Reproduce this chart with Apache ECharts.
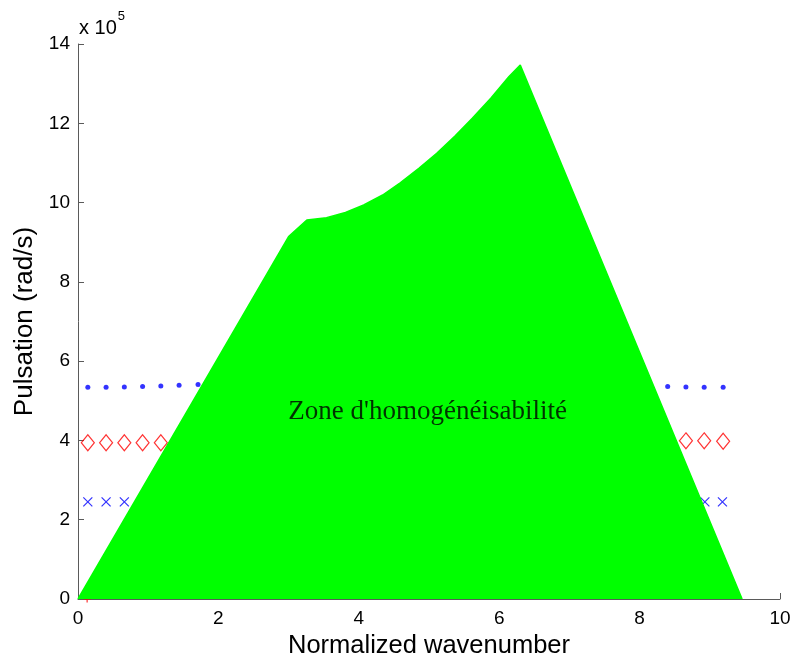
<!DOCTYPE html>
<html>
<head>
<meta charset="utf-8">
<script src="https://cdn.jsdelivr.net/npm/echarts@6/dist/echarts.min.js"></script>
<style>html,body{margin:0;padding:0;background:#fff;}#c{width:796px;height:660px;}</style>
</head>
<body>
<div id="c"></div>
<script>
// Zone boundary (x: normalized wavenumber, y: pulsation x 1e5 rad/s)
var zoneX = [0, 3.00, 3.26, 3.54, 3.81, 4.07, 4.34, 4.59, 4.86, 5.11, 5.37, 5.62, 5.88, 6.14, 6.30, 9.46];
var zoneY = [0, 9.14, 9.56, 9.62, 9.75, 9.94, 10.19, 10.50, 10.87, 11.24, 11.68, 12.13, 12.63, 13.18, 13.47, 0];

// Blue dots
var dotX = [0.14, 0.40, 0.66, 0.92, 1.18, 1.44, 1.71, 8.40, 8.66, 8.92, 9.19];
var dotY = [5.34, 5.34, 5.35, 5.36, 5.37, 5.39, 5.41, 5.36, 5.35, 5.34, 5.34];

// Red diamonds
var diaX = [0.14, 0.40, 0.66, 0.92, 1.18, 8.66, 8.92, 9.19];
var diaY = [3.94, 3.94, 3.94, 3.94, 3.94, 3.99, 3.99, 3.98];

// Blue crosses
var crossX = [0.14, 0.40, 0.66, 8.93, 9.18];
var crossY = [2.45, 2.45, 2.45, 2.45, 2.45];

// Origin marker
var originX = [0.13];
var originY = [0];

var xTicks = [0, 2, 4, 6, 8, 10];
var yTicks = [0, 2, 4, 6, 8, 10, 12, 14];

var zoneLabel = "Zone d'homogénéisabilité";
var zoneLabelPos = [4.98, 4.72];

function zip(a, b) { return a.map(function (v, i) { return [v, b[i]]; }); }

var chart = echarts.init(document.getElementById('c'), null, {renderer: 'canvas'});
var axisCol = '#5a5a5a';
chart.setOption({
  animation: false,
  backgroundColor: '#ffffff',
  grid: {left: 78, right: 16, top: 44, bottom: 61, containLabel: false, outerBoundsMode: 'none'},
  xAxis: {
    type: 'value', min: xTicks[0], max: xTicks[xTicks.length - 1], interval: 2,
    name: 'Normalized wavenumber', nameLocation: 'middle', nameGap: 30,
    nameTextStyle: {fontFamily: 'Liberation Sans, Arial', fontSize: 25.5, color: '#000'},
    axisLine: {show: true, lineStyle: {color: axisCol, width: 1}},
    axisTick: {show: true, inside: true, length: 6, lineStyle: {color: axisCol}},
    axisLabel: {fontFamily: 'Liberation Sans, Arial', fontSize: 19, color: '#000', margin: 10},
    splitLine: {show: false}
  },
  yAxis: {
    type: 'value', min: yTicks[0], max: yTicks[yTicks.length - 1], interval: 2,
    name: 'Pulsation (rad/s)', nameLocation: 'middle', nameGap: 34,
    nameTextStyle: {fontFamily: 'Liberation Sans, Arial', fontSize: 26, color: '#000'},
    axisLine: {show: true, lineStyle: {color: axisCol, width: 1}},
    axisTick: {show: true, inside: true, length: 6, lineStyle: {color: axisCol}},
    axisLabel: {fontFamily: 'Liberation Sans, Arial', fontSize: 19, color: '#000', margin: 8},
    splitLine: {show: false}
  },
  graphic: [{
    type: 'text', left: 79, top: 10, z: 10,
    style: {
      text: '{a|x 10}{b|5}',
      rich: {
        a: {fontFamily: 'Liberation Sans, Arial', fontSize: 20, fill: '#000', verticalAlign: 'bottom', lineHeight: 28},
        b: {fontFamily: 'Liberation Sans, Arial', fontSize: 13, fill: '#000', verticalAlign: 'top', padding: [0, 0, 14, 1], lineHeight: 28}
      }
    }
  }],
  series: [
    {
      type: 'scatter', z: 1, data: zip(dotX, dotY), symbol: 'circle', symbolSize: 5,
      itemStyle: {color: '#0000ff'}
    },
    {
      type: 'scatter', z: 1, data: zip(diaX, diaY), symbol: 'diamond', symbolSize: [13, 16],
      itemStyle: {color: 'rgba(0,0,0,0)', borderColor: '#ff0000', borderWidth: 1.2}
    },
    {
      type: 'scatter', z: 1, data: zip(crossX, crossY),
      symbol: 'path://M0,0L10,10M10,0L0,10', symbolSize: 9,
      itemStyle: {color: 'rgba(0,0,0,0)', borderColor: '#0000ff', borderWidth: 1.2}
    },
    {
      type: 'scatter', z: 1, data: zip(originX, originY), clip: false,
      symbol: 'path://M5,0L5,10M0,5L10,5', symbolSize: 7,
      itemStyle: {color: 'rgba(0,0,0,0)', borderColor: '#ff0000', borderWidth: 1.2}
    },
    {
      type: 'line', z: 3, data: zip(zoneX, zoneY), showSymbol: false, symbol: 'none',
      lineStyle: {color: '#00ff00', width: 1.5},
      areaStyle: {color: '#00ff00', opacity: 1, origin: 0},
      silent: true
    },
    {
      type: 'scatter', z: 5, data: [zoneLabelPos], symbolSize: 0,
      label: {show: true, position: 'inside', formatter: zoneLabel,
        fontFamily: 'Liberation Serif, Times New Roman', fontSize: 27, color: '#000'}
    }
  ]
});
</script>
</body>
</html>
